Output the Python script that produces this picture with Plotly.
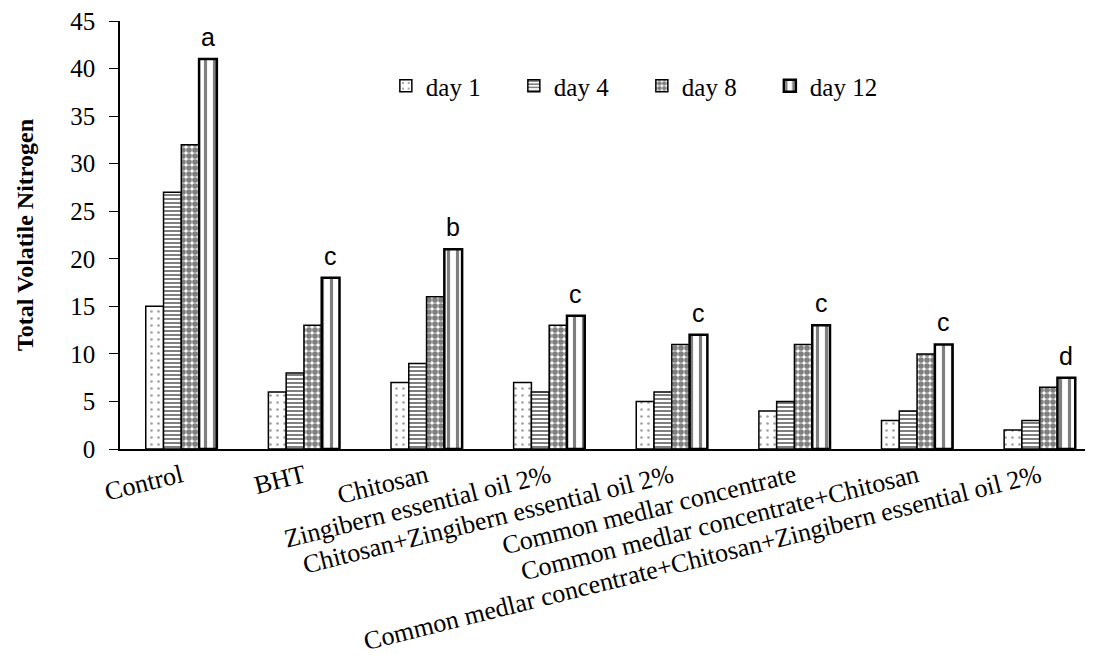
import plotly.graph_objects as go

categories = [
    "Control",
    "BHT",
    "Chitosan",
    "Zingibern essential oil 2%",
    "Chitosan+Zingibern essential oil 2%",
    "Common medlar concentrate",
    "Common medlar concentrate+Chitosan",
    "Common medlar concentrate+Chitosan+Zingibern essential oil 2%",
]
day1 = [15, 6, 7, 7, 5, 4, 3, 2]
day4 = [27, 8, 9, 6, 6, 5, 4, 3]
day8 = [32, 13, 16, 13, 11, 11, 10, 6.5]
day12 = [41, 18, 21, 14, 12, 13, 11, 7.5]
letters = ["a", "c", "b", "c", "c", "c", "c", "d"]
series_names = ["day 1", "day 4", "day 8", "day 12"]

BARGAP = 0.42
serif = "Liberation Serif"

patterns = [
    dict(shape=".", fgcolor="#444444", bgcolor="white", size=7, solidity=0.12),
    dict(shape="-", fgcolor="black", bgcolor="white", size=4, solidity=0.5),
    dict(shape=".", fgcolor="black", bgcolor="white", size=6, solidity=0.7),
    dict(shape="|", fgcolor="black", bgcolor="white", size=9, solidity=0.35),
]
line_widths = [1.5, 1.5, 1.5, 2.5]

fig = go.Figure()
for name, vals, pat, lw in zip(series_names, [day1, day4, day8, day12], patterns, line_widths):
    fig.add_trace(go.Bar(
        name=name, x=list(range(len(categories))), y=vals,
        marker=dict(color="white", pattern=pat, line=dict(color="black", width=lw)),
    ))

barw = (1 - BARGAP) / 4
for i, (v, L) in enumerate(zip(day12, letters)):
    fig.add_annotation(x=i + 1.5 * barw, y=v, text=L, showarrow=False,
                       xref="x", yref="y", yanchor="bottom", yshift=6,
                       font=dict(family="Liberation Sans", size=25, color="black"))

fig.update_layout(
    width=1093, height=662,
    margin=dict(l=112, r=0, t=13, b=221),
    plot_bgcolor="white", paper_bgcolor="white",
    barmode="group", bargap=BARGAP, bargroupgap=0,
    font=dict(family=serif, size=25, color="black"),
    showlegend=True,
    legend=dict(orientation="h", x=0.271, y=0.848, xanchor="left", yanchor="middle",
                font=dict(family=serif, size=25), itemwidth=30,
                entrywidth=83, bgcolor="rgba(0,0,0,0)"),
)
fig.update_xaxes(
    tickmode="array", tickvals=list(range(len(categories))), ticktext=categories,
    range=[-0.5, 7.5], tickangle=-14, showline=True, linecolor="black", linewidth=1.5,
    ticks="", showgrid=False, zeroline=False,
    tickfont=dict(family=serif, size=26),
)
fig.update_yaxes(
    range=[0, 45], dtick=5, showline=True, linecolor="black", linewidth=1.5,
    ticks="outside", ticklen=9, tickcolor="black", showgrid=False, zeroline=False,
    ticklabelstandoff=9, ticklabeloverflow="allow",
    tickfont=dict(family=serif, size=25),
    title=dict(text="<b>Total Volatile Nitrogen</b>", font=dict(family=serif, size=24), standoff=30),
)
fig.write_html("out.html")
